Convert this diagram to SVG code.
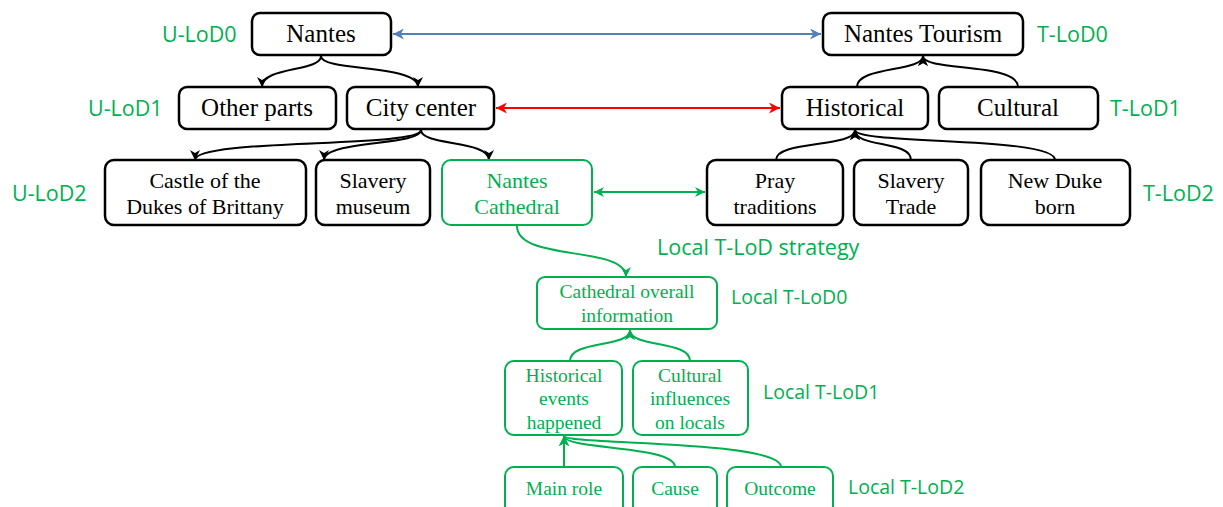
<svg xmlns="http://www.w3.org/2000/svg" width="1223" height="507" viewBox="0 0 1223 507">
<defs>
<style>
.bx{fill:#fff;stroke:#000;stroke-width:2.5}
.gb{fill:#fff;stroke:#00B050;stroke-width:2}
.t{font-family:"Liberation Serif","Times New Roman",serif;font-size:25px;fill:#000;text-anchor:middle}
.t3{font-family:"Liberation Serif","Times New Roman",serif;font-size:22px;fill:#000;text-anchor:middle}
.tg{fill:#00B050}
.tl{font-family:"Liberation Serif","Times New Roman",serif;font-size:19.5px;fill:#00B050;text-anchor:middle}
.lb{font-family:"Open Sans","Noto Sans",sans-serif;font-size:21.5px;fill:#00B050}
.ll{font-family:"Open Sans","Noto Sans",sans-serif;font-size:19.5px;fill:#00B050}
.ck{fill:none;stroke:#000;stroke-width:2;marker-end:url(#ak)}
.cg{fill:none;stroke:#00B050;stroke-width:2;marker-end:url(#ag)}
</style>
<marker id="ak" viewBox="0 0 10 10" refX="10" refY="5" markerWidth="10" markerHeight="10" markerUnits="userSpaceOnUse" orient="auto-start-reverse"><path d="M0,0 L10,5 L0,10 L3,5 z" fill="#000"/></marker>
<marker id="ab" viewBox="0 0 10 10" refX="10" refY="5" markerWidth="11" markerHeight="11" markerUnits="userSpaceOnUse" orient="auto-start-reverse"><path d="M0,0 L10,5 L0,10 L3,5 z" fill="#4F81BD"/></marker>
<marker id="ar" viewBox="0 0 10 10" refX="10" refY="5" markerWidth="11" markerHeight="11" markerUnits="userSpaceOnUse" orient="auto-start-reverse"><path d="M0,0 L10,5 L0,10 L3,5 z" fill="#FF0000"/></marker>
<marker id="ag" viewBox="0 0 10 10" refX="10" refY="5" markerWidth="10" markerHeight="10" markerUnits="userSpaceOnUse" orient="auto-start-reverse"><path d="M0,0 L10,5 L0,10 L3,5 z" fill="#00B050"/></marker>
</defs>
<rect width="1223" height="507" fill="#fff"/>

<g id="connectors">
<path d="M393,34 L821,34" fill="none" stroke="#4F81BD" stroke-width="2" marker-start="url(#ab)" marker-end="url(#ab)"/>
<path d="M496,108 L780,108" fill="none" stroke="#FF0000" stroke-width="2" marker-start="url(#ar)" marker-end="url(#ar)"/>
<path d="M594,192 L705,192" fill="none" stroke="#00B050" stroke-width="2" marker-start="url(#ag)" marker-end="url(#ag)"/>
<path class="ck" d="M321,56 C321,72 262,66 262,87"/>
<path class="ck" d="M321,56 C321,72 418,64 418,87"/>
<path class="ck" d="M421,130 C421,148 195,138 195,160"/>
<path class="ck" d="M421,130 C421,146 324,140 324,160"/>
<path class="ck" d="M421,130 C421,146 489,140 489,160"/>
<path class="ck" d="M857,87 C857,66 923,72 923,56"/>
<path class="ck" d="M1018,87 C1018,62 923,72 923,56"/>
<path class="ck" d="M776,160 C776,140 855,148 855,130"/>
<path class="ck" d="M911,160 C911,140 855,148 855,130"/>
<path class="ck" d="M1055,160 C1055,136 855,145 855,130"/>
<path class="cg" d="M517,226 C517,262 626,245 626,277"/>
<path class="cg" d="M570,361 C570,340 630,348 630,330"/>
<path class="cg" d="M690,361 C690,340 630,348 630,330"/>
<path class="cg" d="M564,467 L564,436"/>
<path class="cg" d="M675,467 C675,445 564,450 564,436"/>
<path class="cg" d="M781,467 C781,440 564,445 564,436"/>
</g>

<g id="n-nantes"><rect class="bx" x="252" y="13" width="139" height="42" rx="8"/><text class="t" x="321" y="42">Nantes</text></g>
<g id="n-tourism"><rect class="bx" x="823" y="13" width="200" height="42" rx="8"/><text class="t" x="923" y="42">Nantes Tourism</text></g>
<g id="n-other"><rect class="bx" x="179" y="87" width="157" height="42" rx="8"/><text class="t" x="257" y="116">Other parts</text></g>
<g id="n-city"><rect class="bx" x="347" y="87" width="147" height="42" rx="8"/><text class="t" x="421" y="116">City center</text></g>
<g id="n-historical"><rect class="bx" x="782" y="87" width="146" height="42" rx="8"/><text class="t" x="855" y="116">Historical</text></g>
<g id="n-cultural"><rect class="bx" x="939" y="87" width="159" height="42" rx="8"/><text class="t" x="1018" y="116">Cultural</text></g>

<g id="n-castle"><rect class="bx" x="105" y="160" width="201" height="65" rx="9"/><text class="t3" x="205" y="188">Castle of the</text><text class="t3" x="205" y="214">Dukes of Brittany</text></g>
<g id="n-museum"><rect class="bx" x="316" y="160" width="114" height="65" rx="9"/><text class="t3" x="373" y="188">Slavery</text><text class="t3" x="373" y="214">museum</text></g>
<g id="n-cathedral"><rect class="gb" x="442" y="160" width="150" height="65" rx="9" stroke-width="2.5"/><text class="t3 tg" x="517" y="188">Nantes</text><text class="t3 tg" x="517" y="214">Cathedral</text></g>
<g id="n-pray"><rect class="bx" x="707" y="160" width="136" height="65" rx="9"/><text class="t3" x="775" y="188">Pray</text><text class="t3" x="775" y="214">traditions</text></g>
<g id="n-trade"><rect class="bx" x="854" y="160" width="114" height="65" rx="9"/><text class="t3" x="911" y="188">Slavery</text><text class="t3" x="911" y="214">Trade</text></g>
<g id="n-duke"><rect class="bx" x="981" y="160" width="149" height="65" rx="9"/><text class="t3" x="1055" y="188">New Duke</text><text class="t3" x="1055" y="214">born</text></g>

<g id="n-overall"><rect class="gb" x="537" y="277" width="180" height="52" rx="8"/><text class="tl" x="627" y="298">Cathedral overall</text><text class="tl" x="627" y="322">information</text></g>
<g id="n-events"><rect class="gb" x="505" y="361" width="117" height="74" rx="9"/><text class="tl" x="564" y="382">Historical</text><text class="tl" x="564" y="405">events</text><text class="tl" x="564" y="429">happened</text></g>
<g id="n-influences"><rect class="gb" x="633" y="361" width="115" height="74" rx="9"/><text class="tl" x="690" y="382">Cultural</text><text class="tl" x="690" y="405">influences</text><text class="tl" x="690" y="429">on locals</text></g>
<g id="n-mainrole"><rect class="gb" x="505" y="467" width="118" height="50" rx="9"/><text class="tl" x="564" y="495">Main role</text></g>
<g id="n-cause"><rect class="gb" x="633" y="467" width="84" height="50" rx="9"/><text class="tl" x="675" y="495">Cause</text></g>
<g id="n-outcome"><rect class="gb" x="727" y="467" width="106" height="50" rx="9"/><text class="tl" x="780" y="495">Outcome</text></g>

<g id="labels">
<text class="lb" x="162" y="42">U-LoD0</text>
<text class="lb" x="1037" y="42">T-LoD0</text>
<text class="lb" x="88" y="116">U-LoD1</text>
<text class="lb" x="1110" y="116">T-LoD1</text>
<text class="lb" x="12" y="201">U-LoD2</text>
<text class="lb" x="1143" y="201">T-LoD2</text>
<text class="lb" x="657" y="255" font-size="23">Local T-LoD strategy</text>
<text class="ll" x="731" y="304">Local T-LoD0</text>
<text class="ll" x="763" y="399">Local T-LoD1</text>
<text class="ll" x="848" y="494">Local T-LoD2</text>
</g>
</svg>
